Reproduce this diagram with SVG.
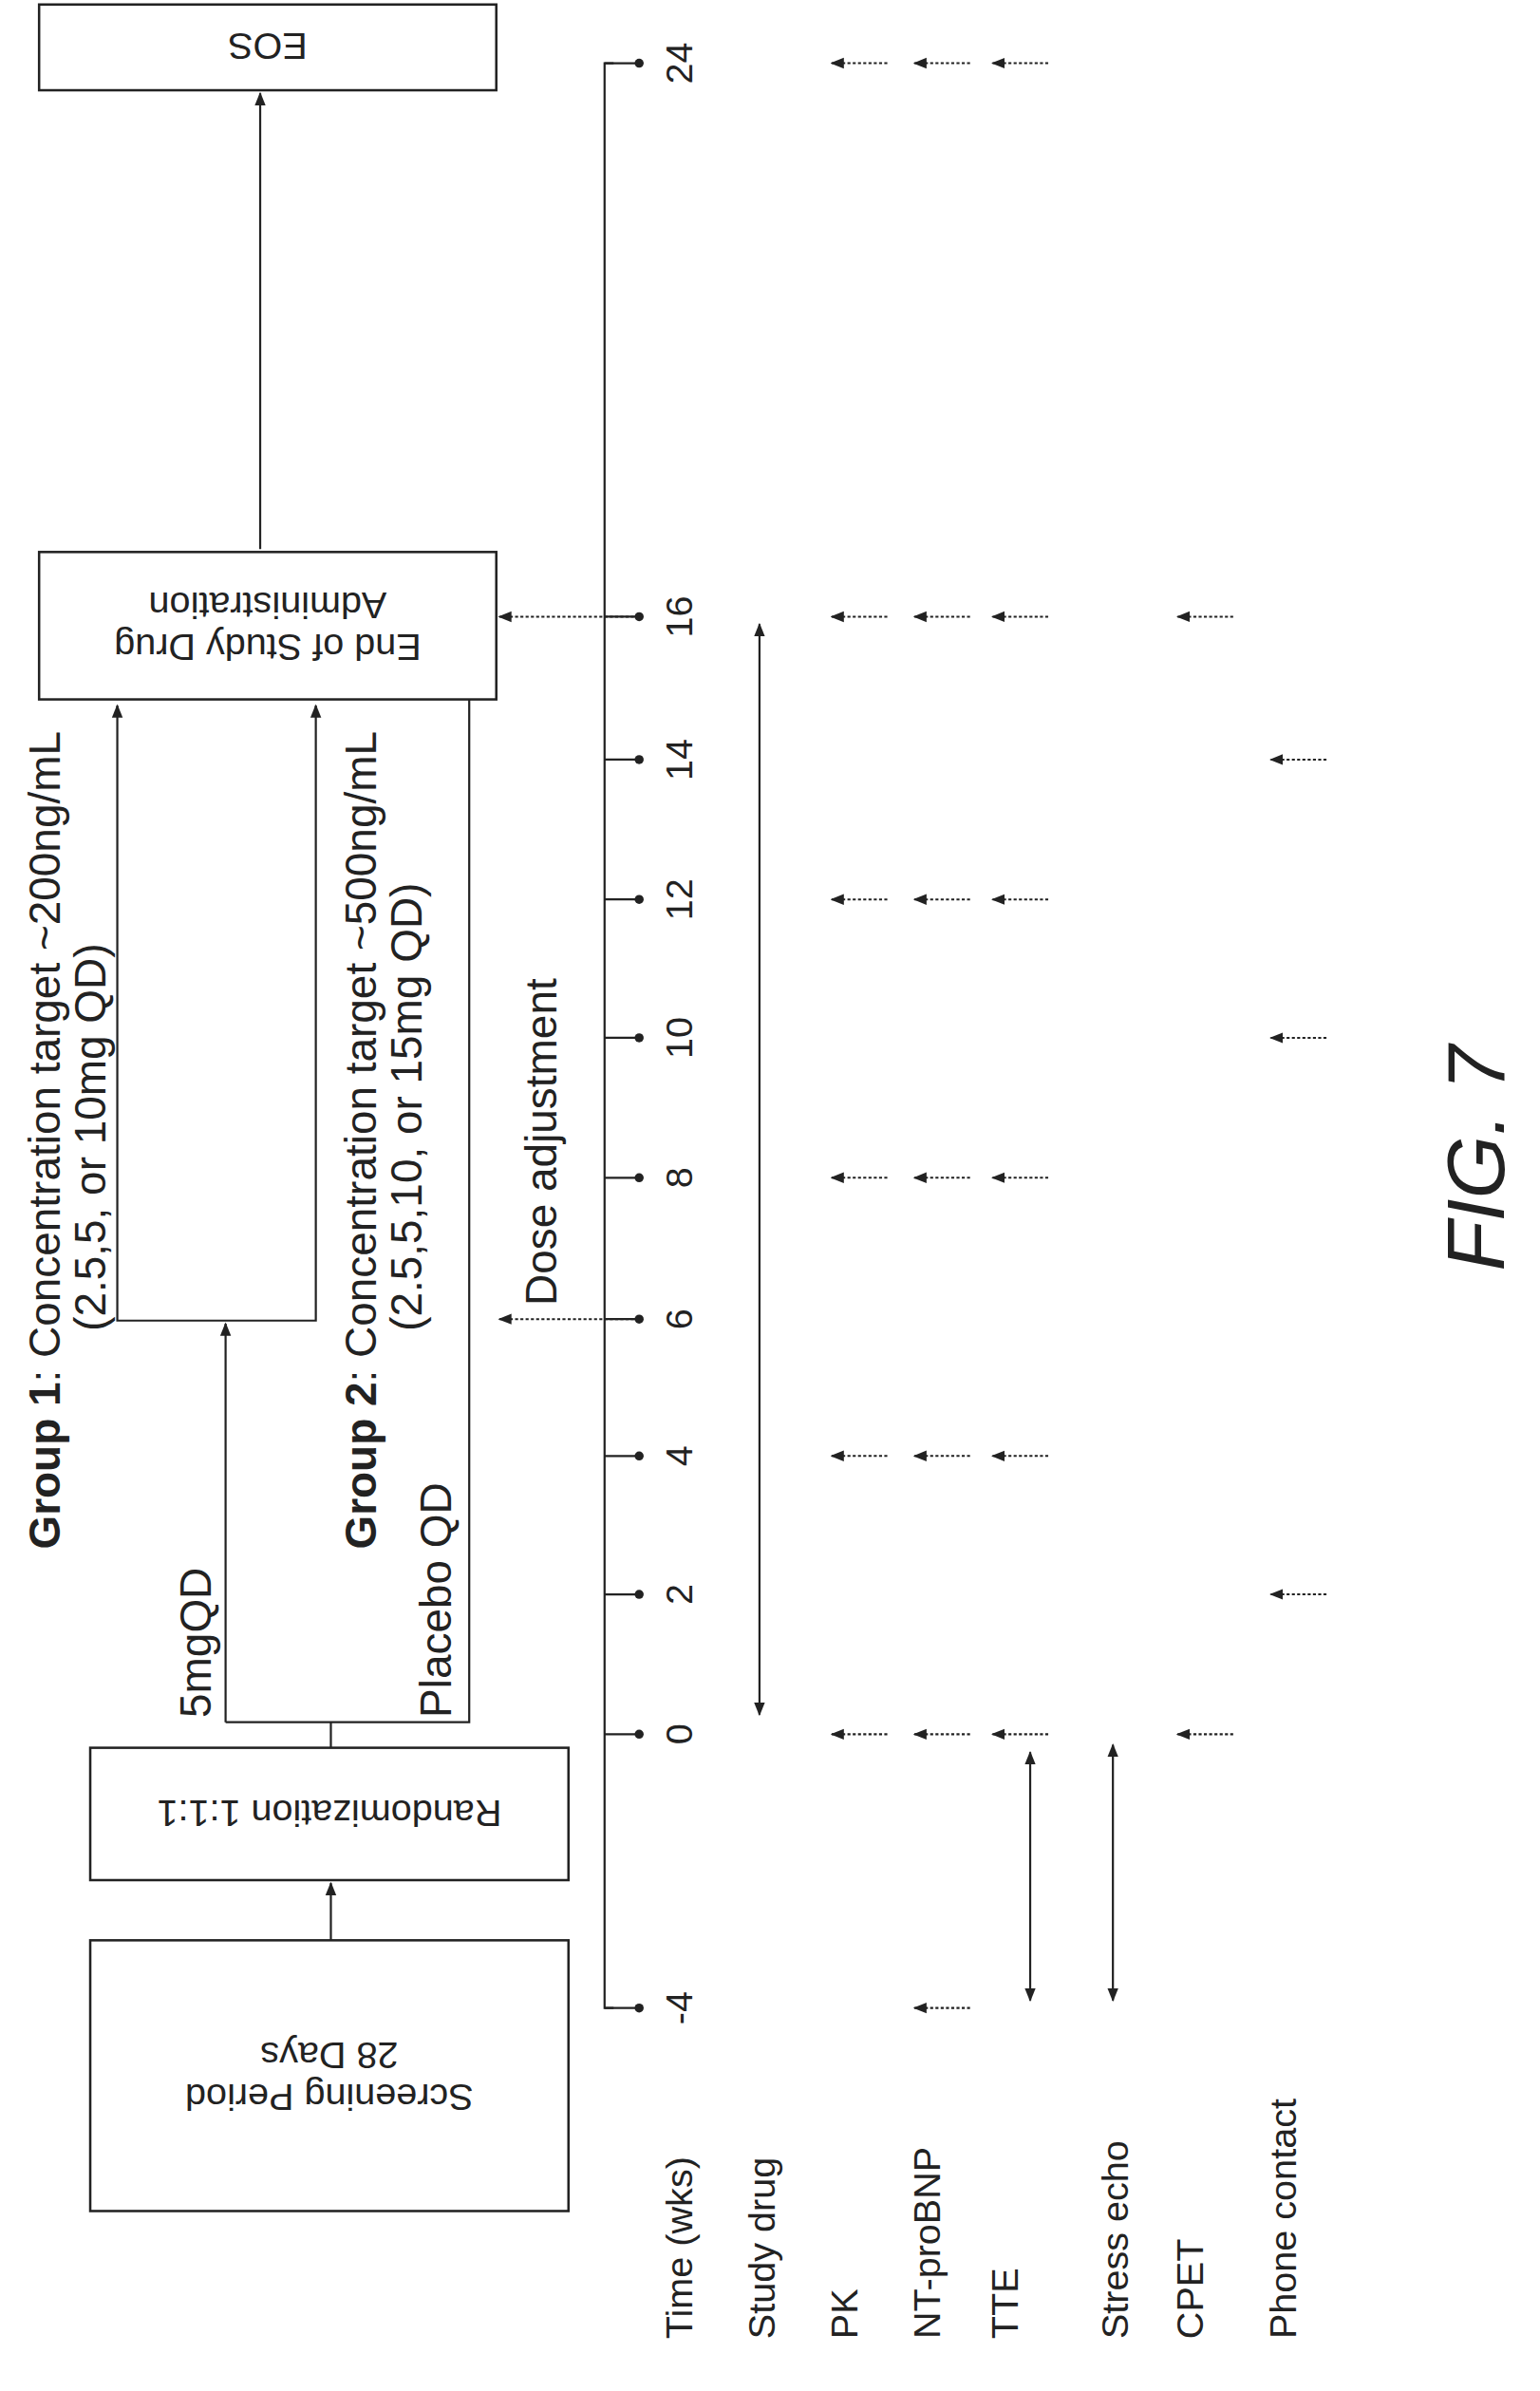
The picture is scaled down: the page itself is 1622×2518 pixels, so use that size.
<svg xmlns="http://www.w3.org/2000/svg" width="1622" height="2518" viewBox="0 0 1622 2518">
<style>
.b{fill:#fff;stroke:#222;stroke-width:1.6}
.l{fill:none;stroke:#222;stroke-width:1.4}
.d{fill:none;stroke:#222;stroke-width:1.3;stroke-dasharray:2 1.5}
.t{font-family:"Liberation Sans",Arial,sans-serif;font-size:25px;fill:#222}
.g{font-size:29px}
.bt{font-weight:bold}
.f{font-family:"Liberation Sans",Arial,sans-serif;font-size:54px;font-style:italic;fill:#222}
</style>
<defs>
<marker id="a" viewBox="0 0 10 10" refX="9" refY="5" markerWidth="9" markerHeight="9" orient="auto-start-reverse" markerUnits="userSpaceOnUse"><path d="M0,1 L10,5 L0,9 Z" fill="#222"/></marker>
</defs>
<rect width="1622" height="2518" fill="#fff"/>
<g transform="scale(1.584)">
<g id="eos"><rect class="b" x="26" y="3" width="304" height="57"/><text class="t" text-anchor="middle" transform="rotate(180 178 31)" x="178" y="40">EOS</text></g>
<g id="end"><rect class="b" x="26" y="367" width="304" height="98"/><g transform="rotate(180 178 416)"><text class="t" text-anchor="middle" x="178" y="410">End of Study Drug</text><text class="t" text-anchor="middle" x="178" y="438">Administration</text></g></g>
<g id="rand"><rect class="b" x="60" y="1162" width="318" height="88"/><text class="t" text-anchor="middle" transform="rotate(180 219 1206)" x="219" y="1215">Randomization 1:1:1</text></g>
<g id="screen"><rect class="b" x="60" y="1290" width="318" height="180"/><g transform="rotate(180 219 1380)"><text class="t" text-anchor="middle" x="219" y="1374">Screening Period</text><text class="t" text-anchor="middle" x="219" y="1402">28 Days</text></g></g>
<g id="labels">
<text class="t g" transform="rotate(-90 40 1030)" x="40" y="1030"><tspan class="bt">Group 1</tspan>: Concentration target ~200ng/mL</text>
<text class="t g" transform="rotate(-90 70 885)" x="70" y="885">(2.5,5, or 10mg QD)</text>
<text class="t g" transform="rotate(-90 250 1030)" x="250" y="1030"><tspan class="bt">Group 2</tspan>: Concentration target ~500ng/mL</text>
<text class="t g" transform="rotate(-90 280 885)" x="280" y="885">(2.5,5,10, or 15mg QD)</text>
<text class="t g" transform="rotate(-90 140 1142)" x="140" y="1142">5mgQD</text>
<text class="t g" transform="rotate(-90 300 1142)" x="300" y="1142">Placebo QD</text>
<text class="t g" transform="rotate(-90 370 868)" x="370" y="868">Dose adjustment</text>
<text class="t" transform="rotate(-90 460 1555)" x="460" y="1555">Time (wks)</text>
<text class="t" transform="rotate(-90 515 1555)" x="515" y="1555">Study drug</text>
<text class="t" transform="rotate(-90 570 1555)" x="570" y="1555">PK</text>
<text class="t" transform="rotate(-90 625 1555)" x="625" y="1555">NT-proBNP</text>
<text class="t" transform="rotate(-90 677 1555)" x="677" y="1555">TTE</text>
<text class="t" transform="rotate(-90 750 1555)" x="750" y="1555">Stress echo</text>
<text class="t" transform="rotate(-90 800 1555)" x="800" y="1555">CPET</text>
<text class="t" transform="rotate(-90 862 1555)" x="862" y="1555">Phone contact</text>
<text class="f" transform="rotate(-90 1000 770)" x="1000" y="770" text-anchor="middle">FIG. 7</text>
<g text-anchor="middle">
<text class="t" transform="rotate(-90 460 42)" x="460" y="42">24</text>
<text class="t" transform="rotate(-90 460 410)" x="460" y="410">16</text>
<text class="t" transform="rotate(-90 460 505)" x="460" y="505">14</text>
<text class="t" transform="rotate(-90 460 598)" x="460" y="598">12</text>
<text class="t" transform="rotate(-90 460 690)" x="460" y="690">10</text>
<text class="t" transform="rotate(-90 460 783)" x="460" y="783">8</text>
<text class="t" transform="rotate(-90 460 877)" x="460" y="877">6</text>
<text class="t" transform="rotate(-90 460 968)" x="460" y="968">4</text>
<text class="t" transform="rotate(-90 460 1060)" x="460" y="1060">2</text>
<text class="t" transform="rotate(-90 460 1153)" x="460" y="1153">0</text>
<text class="t" transform="rotate(-90 460 1335)" x="460" y="1335">-4</text>
</g>
</g>
<g id="connectors">
<path class="l" d="M173,365 V62" marker-end="url(#a)"/>
<path class="l" d="M220,1290 V1252" marker-end="url(#a)"/>
<path class="l" d="M220,1162 V1145 M150,1145 H312 V465"/>
<path class="l" d="M150,1145 V880" marker-end="url(#a)"/>
<path class="l" d="M78,469 V878 H210 V469" marker-start="url(#a)" marker-end="url(#a)"/>
<path class="l" d="M408,42 H402 V1335 H408"/>
<path class="d" d="M425,410 H332" marker-end="url(#a)"/>
<path class="d" d="M425,877 H332" marker-end="url(#a)"/>
<path class="l" d="M402,42 H425 M402,410 H425 M402,505 H425 M402,598 H425 M402,690 H425 M402,783 H425 M402,877 H425 M402,968 H425 M402,1060 H425 M402,1153 H425 M402,1335 H425"/>
<g fill="#222"><circle cx="425" cy="42" r="3"/><circle cx="425" cy="410" r="3"/><circle cx="425" cy="505" r="3"/><circle cx="425" cy="598" r="3"/><circle cx="425" cy="690" r="3"/><circle cx="425" cy="783" r="3"/><circle cx="425" cy="877" r="3"/><circle cx="425" cy="968" r="3"/><circle cx="425" cy="1060" r="3"/><circle cx="425" cy="1153" r="3"/><circle cx="425" cy="1335" r="3"/></g>
<path class="l" d="M505,1140 V415" marker-start="url(#a)" marker-end="url(#a)"/>
<path class="l" d="M685,1165 V1330" marker-start="url(#a)" marker-end="url(#a)"/>
<path class="l" d="M740,1160 V1330" marker-start="url(#a)" marker-end="url(#a)"/>
<g class="d" marker-end="url(#a)">
<path d="M590,1153 H553"/><path d="M590,968 H553"/><path d="M590,783 H553"/><path d="M590,598 H553"/><path d="M590,410 H553"/><path d="M590,42 H553"/>
<path d="M645,1335 H608"/><path d="M645,1153 H608"/><path d="M645,968 H608"/><path d="M645,783 H608"/><path d="M645,598 H608"/><path d="M645,410 H608"/><path d="M645,42 H608"/>
<path d="M697,1153 H660"/><path d="M697,968 H660"/><path d="M697,783 H660"/><path d="M697,598 H660"/><path d="M697,410 H660"/><path d="M697,42 H660"/>
<path d="M820,1153 H783"/><path d="M820,410 H783"/>
<path d="M882,1060 H845"/><path d="M882,690 H845"/><path d="M882,505 H845"/>
</g>
</g>
</g>
</svg>
